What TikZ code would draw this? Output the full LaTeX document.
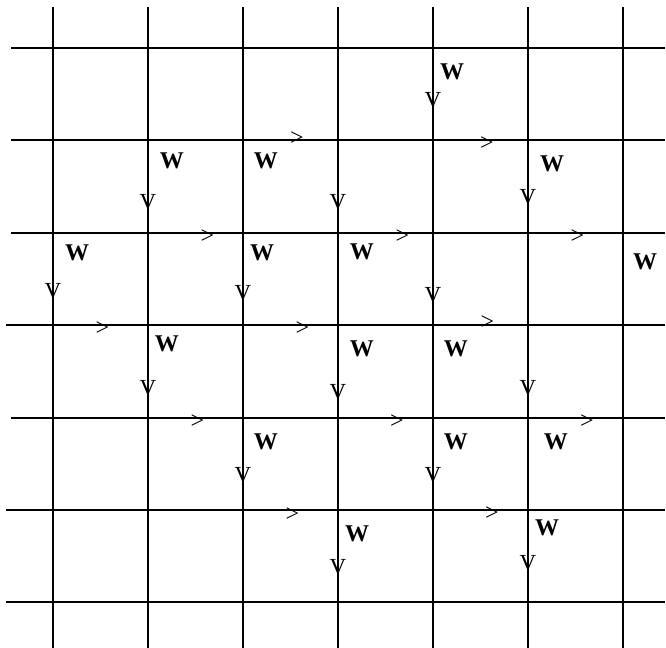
\documentclass[tikz,border=0pt]{standalone}
\usepackage{fontspec}
\setmainfont{Liberation Serif}

\begin{document}
\begin{tikzpicture}[
  x=0.5pt, y=-0.5pt,
  gridline/.style={line width=0.55pt},
  wlab/.style={font=\fontsize{12}{14}\selectfont\bfseries, inner sep=0pt},
  vmark/.style={font=\fontsize{11.5}{13}\selectfont, inner sep=0pt},
  hmark/.style={font=\fontsize{12}{13}\selectfont, inner sep=0pt},
]
\useasboundingbox (0,0) rectangle (666,648);

% ============ lattice ============
\foreach \x in {53,148,243,338,433,528,623}
  \draw[gridline] (\x,7) -- (\x,648);
\foreach \y/\xs in {48/11,140/11,233/11,325/6,418/11,510/6,602/6}
  \draw[gridline] (\xs,\y) -- (665,\y);

% ============ W sites ============
\foreach \p [count=\i] in {(452,72),(172,161),(266,161),(552,164),
    (77,253),(262,253),(362,252),(645,262),(167,344),(362,349),(456,349),
    (266,442),(456,442),(556,442),(357,534),(547,528)}
  \node[wlab] (w\i) at \p {W};

% ============ vertical marks ============
\foreach \p [count=\i] in {(433,100),(148,202),(338,202),(528,197),
    (53,291),(243,293),(433,295),(148,388),(338,392),(528,388),
    (243,475),(433,475),(338,567),(528,563)}
  \node[vmark] (v\i) at \p {V};

% ============ horizontal marks ============
\foreach \p [count=\i] in {(297,138.5),(487,143.5),(207.5,237),(402.5,236.5),
    (577.5,236.5),(102.5,329),(302.5,329),(487.5,323),(197.5,422),(397,422),
    (587,421.5),(292.5,515),(492,514)}
  \node[hmark] (h\i) at \p {>};

\end{tikzpicture}
\end{document}
